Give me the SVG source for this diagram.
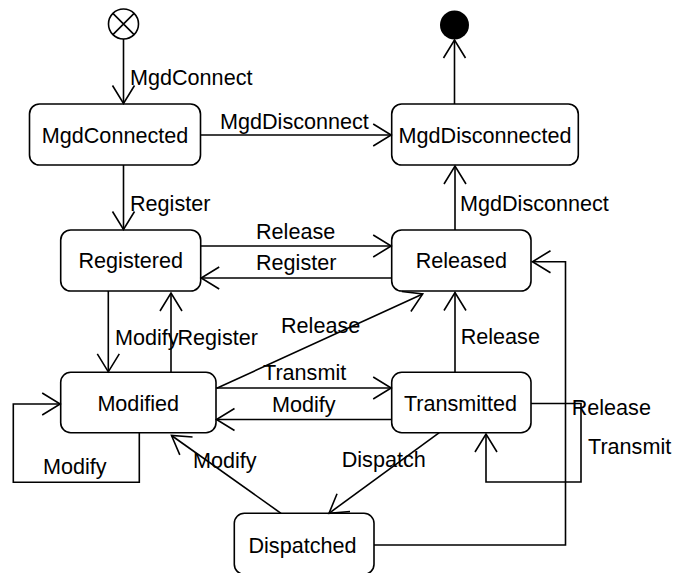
<svg xmlns="http://www.w3.org/2000/svg" width="673" height="573" viewBox="0 0 673 573">
<style>
.box{fill:#fff;stroke:#000;stroke-width:1.6}
.lbl{font-family:"Liberation Sans",Arial,sans-serif;font-size:21.6px;fill:#000}
.c{text-anchor:middle}
.ln{fill:none;stroke:#000;stroke-width:1.6}
</style>
<defs>
<marker id="arr" viewBox="-20 -13 22 26" markerWidth="22" markerHeight="26" refX="0" refY="0" orient="auto" markerUnits="userSpaceOnUse" overflow="visible">
<path d="M-18,-11 L0,0 L-18,11" fill="none" stroke="#000" stroke-width="1.6"/>
</marker>
</defs>
<rect width="673" height="573" fill="#fff"/>
<g id="initial">
<circle cx="123.5" cy="24" r="15" fill="#fff" stroke="#000" stroke-width="1.6"/>
<path d="M112.9,13.4 L134.1,34.6 M134.1,13.4 L112.9,34.6" stroke="#000" stroke-width="1.6"/>
</g>
<g id="final">
<circle cx="454.5" cy="25" r="14.5" fill="#000"/>
</g>
<g id="MgdConnected">
<rect class="box" x="29.5" y="104" width="171" height="61" rx="10"/>
<text class="lbl c" x="115" y="142.7">MgdConnected</text>
</g>
<g id="MgdDisconnected">
<rect class="box" x="391.7" y="104" width="186.6" height="61" rx="10"/>
<text class="lbl c" x="485" y="142.7">MgdDisconnected</text>
</g>
<g id="Registered">
<rect class="box" x="60.7" y="230" width="140" height="61" rx="10"/>
<text class="lbl c" x="130.7" y="268.3">Registered</text>
</g>
<g id="Released">
<rect class="box" x="391.7" y="230" width="139.3" height="61" rx="10"/>
<text class="lbl c" x="461.3" y="268.3">Released</text>
</g>
<g id="Modified">
<rect class="box" x="60.7" y="372.3" width="155.3" height="60.4" rx="10"/>
<text class="lbl c" x="138.2" y="410.7">Modified</text>
</g>
<g id="Transmitted">
<rect class="box" x="391.7" y="372.3" width="139.3" height="60.4" rx="10"/>
<text class="lbl c" x="460.5" y="410.7">Transmitted</text>
</g>
<g id="Dispatched">
<rect class="box" x="234.3" y="513.3" width="139.7" height="61" rx="10"/>
<text class="lbl c" x="302.5" y="553.3">Dispatched</text>
</g>
<g id="connectors">
<path class="ln" marker-end="url(#arr)" d="M123.5,39 L123.5,103.5"/>
<path class="ln" marker-end="url(#arr)" d="M200.7,135 L391.2,135"/>
<path class="ln" marker-end="url(#arr)" d="M454.5,104 L454.5,40"/>
<path class="ln" marker-end="url(#arr)" d="M123.5,165 L123.5,229.5"/>
<path class="ln" marker-end="url(#arr)" d="M200.7,246 L391.2,246"/>
<path class="ln" marker-end="url(#arr)" d="M391.7,278 L201.2,278"/>
<path class="ln" marker-end="url(#arr)" d="M108.3,291 L108.3,371.8"/>
<path class="ln" marker-end="url(#arr)" d="M171,372.3 L171,293"/>
<path class="ln" marker-end="url(#arr)" d="M216.7,388.3 L422.7,294"/>
<path class="ln" marker-end="url(#arr)" d="M216,388 L391.2,388"/>
<path class="ln" marker-end="url(#arr)" d="M391.7,419.5 L216.5,419.5"/>
<path class="ln" marker-end="url(#arr)" d="M455,372.3 L455,292.5"/>
<path class="ln" marker-end="url(#arr)" d="M455,230 L455,166"/>
<path class="ln" marker-end="url(#arr)" d="M139.3,432.7 L139.3,482.3 L13.3,482.3 L13.3,404 L60.2,404"/>
<path class="ln" marker-end="url(#arr)" d="M281,513.3 L171.5,435.5"/>
<path class="ln" marker-end="url(#arr)" d="M439.3,432.7 L329,513.3"/>
<path class="ln" marker-end="url(#arr)" d="M531,403.5 L581,403.5 L581,482 L486,482 L486,434"/>
<path class="ln" marker-end="url(#arr)" d="M374,545 L565.5,545 L565.5,261.7 L532.5,261.7"/>
<text class="lbl" x="130" y="85">MgdConnect</text>
<text class="lbl" x="220" y="128.5">MgdDisconnect</text>
<text class="lbl" x="130" y="211">Register</text>
<text class="lbl" x="460" y="211">MgdDisconnect</text>
<text class="lbl" x="256" y="238.5">Release</text>
<text class="lbl" x="256" y="269.5">Register</text>
<text class="lbl" x="115" y="345">Modify</text>
<text class="lbl" x="177.5" y="345">Register</text>
<text class="lbl" x="281" y="333.3">Release</text>
<text class="lbl" x="460.7" y="344">Release</text>
<text class="lbl" x="263" y="380">Transmit</text>
<text class="lbl" x="272" y="411.7">Modify</text>
<text class="lbl" x="43" y="474.3">Modify</text>
<text class="lbl" x="193" y="468.3">Modify</text>
<text class="lbl" x="341.7" y="467.3">Dispatch</text>
<text class="lbl" x="571.7" y="415">Release</text>
<text class="lbl" x="588" y="454">Transmit</text>
</g>
</svg>
